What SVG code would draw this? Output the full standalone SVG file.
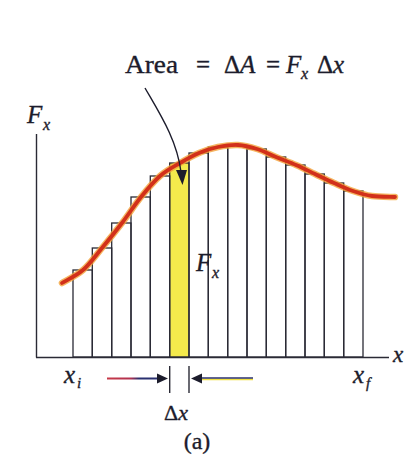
<svg xmlns="http://www.w3.org/2000/svg" width="405" height="462" viewBox="0 0 405 462">
<defs>
<style>
.bar{fill:none;stroke:#2a2a35;stroke-width:1.3}
.ax{stroke:#2a2a35;stroke-width:1.4;fill:none}
.t{font-family:"Liberation Serif","Times New Roman",serif;fill:#1c1c2c;stroke:#1c1c2c;stroke-width:0.35}
.i{font-style:italic}
</style>
<linearGradient id="lg" gradientUnits="userSpaceOnUse" x1="107" y1="0" x2="160" y2="0">
<stop offset="0" stop-color="#c83a48"/><stop offset="0.45" stop-color="#b03050"/><stop offset="0.6" stop-color="#2a3070"/><stop offset="1" stop-color="#2a3070"/>
</linearGradient>
</defs>
<rect width="405" height="462" fill="#ffffff"/>

<g id="strip">
<rect x="169.7" y="163" width="19.3" height="194" fill="#f4ea4c" stroke="#2a2a35" stroke-width="1.3"/>
</g>

<g id="bars">
<rect class="bar" x="73" y="270" width="19.3" height="87"/>
<rect class="bar" x="92.3" y="248" width="19.4" height="109"/>
<rect class="bar" x="111.7" y="223" width="19.3" height="134"/>
<rect class="bar" x="131" y="197" width="19.3" height="160"/>
<rect class="bar" x="150.3" y="176" width="19.4" height="181"/>
<rect class="bar" x="189" y="153" width="19.3" height="204"/>
<rect class="bar" x="208.3" y="147" width="19.4" height="210"/>
<rect class="bar" x="227.7" y="146" width="19.3" height="211"/>
<rect class="bar" x="247" y="149" width="19.3" height="208"/>
<rect class="bar" x="266.3" y="157" width="19.4" height="200"/>
<rect class="bar" x="285.7" y="165" width="19.3" height="192"/>
<rect class="bar" x="305" y="174" width="19.3" height="183"/>
<rect class="bar" x="324.3" y="183" width="19.4" height="174"/>
<rect class="bar" x="343.7" y="191" width="19.3" height="166"/>
</g>

<g id="axes">
<line class="ax" x1="36.5" y1="134" x2="36.5" y2="357.5"/>
<line class="ax" x1="36" y1="357.5" x2="389" y2="357.5"/>
</g>

<g id="curve">
<path d="M62,283 C65.5,280.8 76.3,275.8 83,270 C89.7,264.2 95.5,255.8 102,248 C108.5,240.2 115.5,231.5 122,223 C128.5,214.5 134.7,204.8 141,197 C147.3,189.2 153.5,181.7 160,176 C166.5,170.3 173.5,166.8 180,163 C186.5,159.2 192.7,155.7 199,153 C205.3,150.3 211.5,148.3 218,147 C224.5,145.7 231.5,144.7 238,145 C244.5,145.3 250.7,147 257,149 C263.3,151 269.5,154.3 276,157 C282.5,159.7 289.5,162.2 296,165 C302.5,167.8 308.7,171 315,174 C321.3,177 327.7,180.2 334,183 C340.3,185.8 346.7,188.8 353,191 C359.3,193.2 365,195 372,196 C379,197 391.2,196.8 395,197" fill="none" stroke="#f2a23a" stroke-width="6.5" stroke-linecap="round" opacity="0.8"/>
<path d="M62,283 C65.5,280.8 76.3,275.8 83,270 C89.7,264.2 95.5,255.8 102,248 C108.5,240.2 115.5,231.5 122,223 C128.5,214.5 134.7,204.8 141,197 C147.3,189.2 153.5,181.7 160,176 C166.5,170.3 173.5,166.8 180,163 C186.5,159.2 192.7,155.7 199,153 C205.3,150.3 211.5,148.3 218,147 C224.5,145.7 231.5,144.7 238,145 C244.5,145.3 250.7,147 257,149 C263.3,151 269.5,154.3 276,157 C282.5,159.7 289.5,162.2 296,165 C302.5,167.8 308.7,171 315,174 C321.3,177 327.7,180.2 334,183 C340.3,185.8 346.7,188.8 353,191 C359.3,193.2 365,195 372,196 C379,197 391.2,196.8 395,197" fill="none" stroke="#d2301a" stroke-width="3.8" stroke-linecap="round"/>
</g>

<g id="connectors">
<path d="M145,88 C160,114 177,140 181,172" fill="none" stroke="#1c1c2c" stroke-width="1.4"/>
<polygon points="176,170 187,170 182.5,185" fill="#1c1c2c"/>
<line x1="107" y1="378.5" x2="160" y2="378.5" stroke="url(#lg)" stroke-width="2"/>
<polygon points="157,373.5 168,378.5 157,383.5" fill="#1c1c2c"/>
<line x1="199" y1="379.4" x2="253" y2="379.4" stroke="#f0e040" stroke-width="1.6"/>
<line x1="199" y1="378" x2="253" y2="378" stroke="#2a3070" stroke-width="1.6"/>
<polygon points="202,373.5 191,378.5 202,383.5" fill="#1c1c2c"/>
<line x1="169.7" y1="366" x2="169.7" y2="393" stroke="#2a2a35" stroke-width="1.4"/>
<line x1="189" y1="366" x2="189" y2="393" stroke="#2a2a35" stroke-width="1.4"/>
</g>

<g id="labels">
<text class="t" x="125" y="73" font-size="25" textLength="53" lengthAdjust="spacingAndGlyphs">Area</text>
<text class="t" x="196" y="73" font-size="25">=</text>
<text class="t" x="224" y="73" font-size="25">Δ<tspan class="i">A</tspan></text>
<text class="t" x="266" y="73" font-size="25">=</text>
<text class="t i" x="286" y="73" font-size="25">F</text>
<text class="t i" x="301" y="79" font-size="16">x</text>
<text class="t" x="317" y="73" font-size="25">Δ<tspan class="i">x</tspan></text>

<text class="t i" x="27" y="123" font-size="25">F</text>
<text class="t i" x="43" y="130" font-size="16">x</text>

<text class="t i" x="196" y="271" font-size="25" fill="#24244a">F</text>
<text class="t i" x="212" y="278" font-size="16" fill="#24244a">x</text>

<text class="t i" x="64" y="383" font-size="25">x</text>
<text class="t i" x="77" y="388" font-size="15">i</text>
<text class="t i" x="353" y="383" font-size="25">x</text>
<text class="t i" x="366" y="388" font-size="15">f</text>
<text class="t i" x="393" y="362" font-size="23">x</text>

<text class="t" x="164" y="420" font-size="22">Δ<tspan class="i">x</tspan></text>
<text class="t" x="197" y="449" font-size="24" text-anchor="middle">(a)</text>
</g>
</svg>
